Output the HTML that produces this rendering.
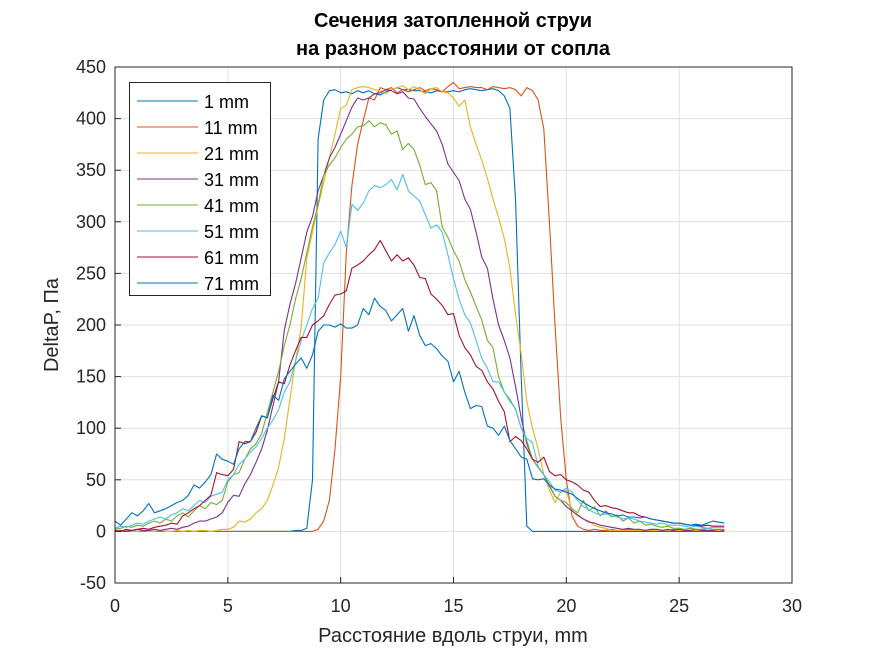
<!DOCTYPE html>
<html><head><meta charset="utf-8">
<style>
html,body{margin:0;padding:0;background:#fff;}
svg{display:block;font-family:"Liberation Sans",Arial,sans-serif;}
</style></head>
<body>
<svg id="chart" width="875" height="656" viewBox="0 0 875 656" xmlns="http://www.w3.org/2000/svg">
<rect x="0" y="0" width="875" height="656" fill="#fff"/>
<text x="453" y="27" text-anchor="middle" font-size="20" font-weight="bold" fill="#000">Сечения затопленной струи</text>
<text x="453" y="55" text-anchor="middle" font-size="20" font-weight="bold" fill="#000">на разном расстоянии от сопла</text>
<g id="grid"></g>
<g id="series"></g>
<g id="axes"></g>
<text x="453" y="642" text-anchor="middle" font-size="20" fill="#262626">Расстояние вдоль струи, mm</text>
<text transform="translate(58,325) rotate(-90)" text-anchor="middle" font-size="20" fill="#262626">DeltaP, Па</text>
<g id="legend"></g>
</svg>
<script>
const xStart = 0, xStep = 0.25;
const seriesNames = ["1 mm","11 mm","21 mm","31 mm","41 mm","51 mm","61 mm","71 mm"];
const seriesColors = ["#0072BD","#D95319","#EDB120","#7E2F8E","#77AC30","#4DBEEE","#A2142F","#0072BD"];
const xTicks = [0,5,10,15,20,25,30];
const yTicks = [-50,0,50,100,150,200,250,300,350,400,450];

const s1mm = [0,0,0,0,0,0,0,0,0,0,0,0,0,0,0,0,0,0,0,0,0,0,0,0,0,0,0,0,0,0,0,0,1,1,
3,50,380,418,427,428,425,426,424,427,425,427,424,423,426,428,430,428,428,427,427,426,425,427,426,426,427,426,428,429,428,427,428,429,427,422,410,320,150,5,
0,0,0,0,0,0,0,0,0,0,0,0,0,0,0,0,0,0,0,0,0,0,0,0,0,0,0,0,0,0,0,0,0,0,0];
const s11mm = [0,0,0,0,0,0,0,0,0,0,0,0,0,0,0,0,0,0,0,0,0,0,0,0,0,0,0,0,0,0,0,0,0,0,0,0,
2,10,30,80,150,270,335,375,398,420,418,430,428,430,425,428,426,428,430,427,429,428,426,431,435,429,430,431,430,430,428,431,430,429,430,428,422,430,427,418,390,300,200,110,50,15,5,2,
1,2,1,1,2,1,1,2,1,1,1,2,1,1,1,2,1,1,1,1,2,1,1,1,1];
const s21mm = [0,0,1,0,0,1,0,0,1,0,0,1,0,1,0,1,1,0,1,2,
2,4,10,9,12,18,22,30,45,62,90,128,165,198,265,290,315,338,362,385,410,413,428,430,431,430,428,427,424,428,430,432,428,431,428,424,429,430,426,425,420,412,418,392,375,360,342,322,304,284,255,210,172,126,100,80,55,40,28,38,40,20,15,12,10,6,4,3,
1,1,1,1,1,1,1,1,1,1,1,1,1,1,1,1,1,1,1,1,1];
const s31mm = [0,1,0,1,2,1,1,2,1,2,3,2,
4,5,8,10,10,12,14,18,28,35,34,46,55,67,80,98,122,145,195,220,240,265,290,305,330,345,362,372,385,398,411,420,418,420,424,425,428,427,424,426,420,419,410,402,395,388,375,356,348,340,322,312,290,266,255,225,200,185,168,140,110,85,70,62,55,44,34,30,24,20,16,12,9,8,6,5,4,
3,2,3,2,2,1,2,2,1,2,1,2,1,1,2,1,1,1,2,1];
const s41mm = [2,3,5,4,6,5,8,10,8,12,10,15,18,14,20,25,22,28,26,30,48,55,57,70,80,85,95,115,135,155,180,200,225,245,270,295,317,345,355,362,372,380,385,392,393,398,392,396,394,385,388,370,376,370,355,336,338,330,295,285,272,262,244,232,218,205,185,178,150,135,128,118,100,88,70,62,55,45,34,30,28,22,18,30,20,24,15,20,14,16,10,13,8,10,6,7,5,4,5,3,3,2,3,2,2,3,2,2,2];
const s51mm = [3,5,4,6,8,7,10,12,14,12,16,18,22,20,25,30,28,34,36,38,50,55,65,70,77,82,90,100,108,118,135,145,165,185,200,216,226,260,270,278,291,275,317,311,318,330,335,333,336,341,331,346,330,325,320,307,294,297,290,268,245,225,210,202,185,168,158,145,145,135,126,119,100,90,86,63,55,48,40,38,42,38,30,24,21,18,16,17,15,14,12,13,12,10,9,8,7,8,6,6,6,5,4,5,4,3,4,4,4];
const s61mm = [1,0,2,1,2,3,2,4,5,6,8,7,15,18,22,25,30,35,57,55,54,60,87,85,87,96,112,110,129,145,143,161,175,188,188,200,204,209,220,229,230,233,255,258,262,268,273,282,272,262,268,262,265,258,246,245,230,225,219,210,211,190,178,171,160,156,145,138,126,116,87,92,88,80,70,67,72,58,54,55,50,48,45,40,38,30,24,25,23,22,20,18,18,15,14,12,11,10,9,8,8,7,6,6,5,6,5,5,5];
const s71mm = [10,6,12,18,15,20,27,18,20,22,25,28,30,35,45,42,48,55,75,70,68,65,80,87,87,100,112,110,132,127,148,155,162,168,158,171,194,200,200,198,201,197,197,200,216,210,226,218,214,204,210,216,194,209,190,180,182,177,170,165,145,155,135,119,122,121,102,100,93,102,88,80,72,70,51,50,51,45,41,40,38,36,32,28,25,22,20,18,17,15,16,14,14,13,14,12,11,10,9,8,8,7,6,7,6,8,10,9,8];
const allSeries = [s1mm,s11mm,s21mm,s31mm,s41mm,s51mm,s61mm,s71mm];

const L=115,R=792,T=67,B=583, xMin=0,xMax=30,yMin=-50,yMax=450;
const xs = v => L + (v - xMin) / (xMax - xMin) * (R - L);
const ys = v => B - (v - yMin) / (yMax - yMin) * (B - T);
const NS = "http://www.w3.org/2000/svg";
function mk(tag, attrs, parent){const e=document.createElementNS(NS,tag);for(const k in attrs)e.setAttribute(k,attrs[k]);parent.appendChild(e);return e;}

const grid=document.getElementById('grid'), axes=document.getElementById('axes'), sg=document.getElementById('series'), lg=document.getElementById('legend');
xTicks.forEach(t=>{
  const gl=mk('line',{x1:xs(t),x2:xs(t),y1:T,y2:B,stroke:'#dfdfdf','stroke-width':1},grid);
  
  
  const tk=mk('line',{x1:xs(t),x2:xs(t),y1:B,y2:B-6,stroke:'#262626','stroke-width':1},axes);
  
  
  const lb=mk('text',{x:xs(t),y:B+29,'text-anchor':'middle','font-size':18,fill:'#262626'},axes);
  lb.textContent=t;
  
  
});
yTicks.forEach(t=>{
  const gl=mk('line',{x1:L,x2:R,y1:ys(t),y2:ys(t),stroke:'#dfdfdf','stroke-width':1},grid);
  
  
  const tk=mk('line',{x1:L,x2:L+6,y1:ys(t),y2:ys(t),stroke:'#262626','stroke-width':1},axes);
  
  
  const lb=mk('text',{x:L-9,y:ys(t)+6,'text-anchor':'end','font-size':18,fill:'#262626'},axes);
  lb.textContent=t;
  
  
});
const box=mk('rect',{x:L,y:T,width:R-L,height:B-T,fill:'none',stroke:'#262626','stroke-width':1},axes);



allSeries.forEach((arr,si)=>{
  const pts=arr.map((v,i)=>xs(xStart+i*xStep).toFixed(1)+','+ys(v).toFixed(1)).join(' ');
  const pl=mk('polyline',{points:pts,fill:'none',stroke:seriesColors[si],'stroke-width':1.1,'stroke-linejoin':'round'},sg);
  
  
});

const lbox=mk('rect',{x:129.5,y:82.5,width:141,height:213,fill:'#fff',stroke:'#262626','stroke-width':1},lg);


seriesNames.forEach((n,i)=>{
  const y=101+i*26;
  const ln=mk('line',{x1:137,x2:198,y1:y,y2:y,stroke:seriesColors[i],'stroke-width':1.1},lg);
  
  
  const tx=mk('text',{x:204,y:y+7,'font-size':18,fill:'#000'},lg);
  tx.textContent=n;
  
  
});
</script>
</body></html>
